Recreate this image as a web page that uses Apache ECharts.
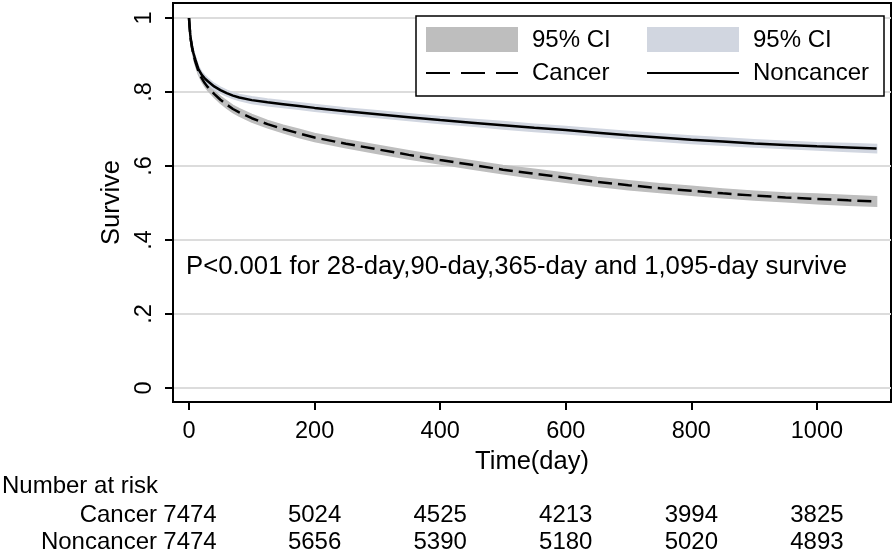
<!DOCTYPE html>
<html>
<head>
<meta charset="utf-8">
<script src="https://cdn.jsdelivr.net/npm/echarts@6/dist/echarts.min.js"></script>
<style>html,body{margin:0;padding:0;background:#fff;}#c{width:894px;height:553px;}</style>
</head>
<body>
<div id="c"></div>
<script>
// ---- data ----
const days = [0,1,2,3,5,7,10,15,20,25,30,40,50,60,70,80,100,125,150,175,200,250,300,350,400,450,500,550,600,650,700,750,800,850,900,950,1000,1050,1095];
const cancer = [1.0,0.975,0.955,0.94,0.918,0.902,0.882,0.856,0.838,0.824,0.813,0.795,0.779,0.766,0.754,0.745,0.729,0.713,0.700,0.688,0.677,0.660,0.645,0.630,0.616,0.603,0.590,0.579,0.568,0.557,0.548,0.540,0.533,0.526,0.520,0.515,0.511,0.507,0.504];
const cancerLo = [1.0,0.969,0.948,0.932,0.909,0.893,0.873,0.847,0.829,0.815,0.804,0.786,0.770,0.756,0.744,0.735,0.719,0.703,0.690,0.677,0.666,0.649,0.634,0.619,0.605,0.592,0.579,0.567,0.556,0.545,0.536,0.528,0.521,0.514,0.508,0.503,0.498,0.494,0.491];
const cancerHi = [1.0,0.981,0.962,0.948,0.927,0.911,0.891,0.865,0.847,0.833,0.822,0.804,0.788,0.776,0.764,0.755,0.739,0.723,0.710,0.699,0.688,0.671,0.656,0.641,0.627,0.614,0.601,0.591,0.580,0.569,0.560,0.552,0.545,0.538,0.532,0.527,0.524,0.520,0.517];
const noncancer = [1.0,0.975,0.955,0.94,0.92,0.905,0.888,0.862,0.847,0.837,0.829,0.815,0.805,0.797,0.790,0.785,0.778,0.772,0.767,0.762,0.757,0.748,0.740,0.732,0.724,0.717,0.710,0.703,0.697,0.690,0.683,0.677,0.671,0.666,0.661,0.657,0.653,0.650,0.647];
const noncancerLo = [1.0,0.969,0.948,0.933,0.912,0.897,0.880,0.854,0.839,0.829,0.821,0.807,0.797,0.789,0.782,0.777,0.769,0.763,0.758,0.753,0.748,0.739,0.731,0.723,0.715,0.708,0.700,0.693,0.687,0.680,0.673,0.667,0.661,0.656,0.651,0.647,0.643,0.639,0.636];
const noncancerHi = [1.0,0.981,0.962,0.947,0.928,0.913,0.896,0.870,0.855,0.845,0.837,0.823,0.813,0.805,0.798,0.793,0.787,0.781,0.776,0.771,0.766,0.757,0.749,0.741,0.733,0.726,0.720,0.713,0.707,0.700,0.693,0.687,0.681,0.676,0.671,0.667,0.663,0.661,0.658];
const xTicks = [0,200,400,600,800,1000];
const yTicks = [0,0.2,0.4,0.6,0.8,1];
const riskTimes = [0,200,400,600,800,1000];
const riskCancer = [7474,5024,4525,4213,3994,3825];
const riskNoncancer = [7474,5656,5390,5180,5020,4893];
const pText = 'P<0.001 for 28-day,90-day,365-day and 1,095-day survive';

const FONT = "'Liberation Sans', Arial, sans-serif";
const FS_TICK = 23.5, FS_TITLE = 25.5, FS_LEG = 24, FS_P = 25.7, FS_TAB = 24;
const pairs = (xs, ys) => xs.map((x, i) => [x, ys[i]]);

function bandSeries(name, lo, hi, color) {
  return {
    type: 'custom', name: name, silent: true, clip: true, z: 1,
    data: [[0, 1]],
    renderItem: function (params, api) {
      const pts = [];
      for (let i = 0; i < days.length; i++) pts.push(api.coord([days[i], hi[i]]));
      for (let i = days.length - 1; i >= 0; i--) pts.push(api.coord([days[i], lo[i]]));
      return { type: 'polygon', shape: { points: pts }, style: { fill: color, stroke: color, lineWidth: 1.5 } };
    }
  };
}

const chart = echarts.init(document.getElementById('c'), null, { renderer: 'canvas' });
const option = {
  animation: false,
  backgroundColor: '#fff',
  textStyle: { fontFamily: FONT },
  grid: { left: 173, top: 3, right: 3, bottom: 151, show: true, borderColor: '#000', borderWidth: 2, containLabel: false },
  xAxis: {
    type: 'value', min: -25.5, max: 1118,
    name: 'Time(day)', nameLocation: 'middle', nameGap: 45,
    nameTextStyle: { color: '#000', fontSize: FS_TITLE, fontFamily: FONT },
    axisLine: { show: true, onZero: false, lineStyle: { color: '#000', width: 2 } },
    axisTick: { show: true, length: 8, lineStyle: { color: '#000', width: 2 }, customValues: xTicks },
    axisLabel: { color: '#000', fontSize: FS_TICK, fontFamily: FONT, margin: 18, customValues: xTicks, formatter: v => String(v) },
    splitLine: { show: false }
  },
  yAxis: {
    type: 'value', min: -0.038, max: 1.0405,
    name: 'Survive', nameLocation: 'middle', nameGap: 42, nameRotate: 90,
    nameTextStyle: { color: '#000', fontSize: FS_TITLE, fontFamily: FONT },
    axisLine: { show: true, onZero: false, lineStyle: { color: '#000', width: 2 } },
    axisTick: { show: true, length: 8, lineStyle: { color: '#000', width: 2 }, customValues: yTicks },
    axisLabel: {
      color: '#000', fontSize: FS_TICK, fontFamily: FONT, rotate: 90, margin: 16, customValues: yTicks,
      formatter: function (v) { const r = Math.round(v * 10) / 10; if (r === 0) return '0'; if (r === 1) return '1'; return String(r).replace(/^0/, ''); }
    },
    splitLine: { show: true, lineStyle: { color: '#dcdcdc', width: 2 } }
  },
  series: [
    bandSeries('Cancer 95% CI', cancerLo, cancerHi, '#bebebe'),
    bandSeries('Noncancer 95% CI', noncancerLo, noncancerHi, '#d1d6e0'),
    { type: 'line', name: 'Noncancer', data: pairs(days, noncancer), showSymbol: false, symbol: 'none', z: 3,
      lineStyle: { color: '#000', width: 2.5 } },
    { type: 'line', name: 'Cancer', data: pairs(days, cancer), showSymbol: false, symbol: 'none', z: 3,
      lineStyle: { color: '#000', width: 2.5, type: [14, 6] } }
  ],
  graphic: []
};
chart.setOption(option);

// legend, annotation and number-at-risk table
const f = s => s + 'px ' + FONT;
const g = [];
g.push({ type: 'rect', shape: { x: 416, y: 16, width: 468, height: 80 }, style: { fill: '#fff', stroke: '#000', lineWidth: 1.5 }, z: 10 });
g.push({ type: 'rect', shape: { x: 426, y: 27, width: 92, height: 25 }, style: { fill: '#bebebe' }, z: 11 });
g.push({ type: 'rect', shape: { x: 647, y: 27, width: 92, height: 25 }, style: { fill: '#d1d6e0' }, z: 11 });
g.push({ type: 'text', x: 532, y: 40, style: { text: '95% CI', fill: '#000', font: f(FS_LEG), verticalAlign: 'middle' }, z: 11 });
g.push({ type: 'text', x: 753, y: 40, style: { text: '95% CI', fill: '#000', font: f(FS_LEG), verticalAlign: 'middle' }, z: 11 });
g.push({ type: 'line', shape: { x1: 426, y1: 73, x2: 518, y2: 73 }, style: { stroke: '#000', lineWidth: 2, lineDash: [24, 11] }, z: 11 });
g.push({ type: 'line', shape: { x1: 647, y1: 73, x2: 739, y2: 73 }, style: { stroke: '#000', lineWidth: 2 }, z: 11 });
g.push({ type: 'text', x: 532, y: 73, style: { text: 'Cancer', fill: '#000', font: f(FS_LEG), verticalAlign: 'middle' }, z: 11 });
g.push({ type: 'text', x: 753, y: 73, style: { text: 'Noncancer', fill: '#000', font: f(FS_LEG), verticalAlign: 'middle' }, z: 11 });

g.push({ type: 'text', x: 186, y: 267, style: { text: pText, fill: '#000', font: f(FS_P), verticalAlign: 'middle' }, z: 11 });

g.push({ type: 'text', x: 2, y: 486, style: { text: 'Number at risk', fill: '#000', font: f(FS_TAB), verticalAlign: 'middle' }, z: 11 });
g.push({ type: 'text', x: 157, y: 515, style: { text: 'Cancer', fill: '#000', font: f(FS_TAB), align: 'right', verticalAlign: 'middle' }, z: 11 });
g.push({ type: 'text', x: 157, y: 542, style: { text: 'Noncancer', fill: '#000', font: f(FS_TAB), align: 'right', verticalAlign: 'middle' }, z: 11 });
riskTimes.forEach(function (t, i) {
  const px = chart.convertToPixel({ xAxisIndex: 0 }, t);
  g.push({ type: 'text', x: px + (i === 0 ? 1 : 0), y: 515, style: { text: String(riskCancer[i]), fill: '#000', font: f(FS_TAB), align: 'center', verticalAlign: 'middle' }, z: 11 });
  g.push({ type: 'text', x: px + (i === 0 ? 1 : 0), y: 542, style: { text: String(riskNoncancer[i]), fill: '#000', font: f(FS_TAB), align: 'center', verticalAlign: 'middle' }, z: 11 });
});
chart.setOption({ graphic: g });
</script>
</body>
</html>
